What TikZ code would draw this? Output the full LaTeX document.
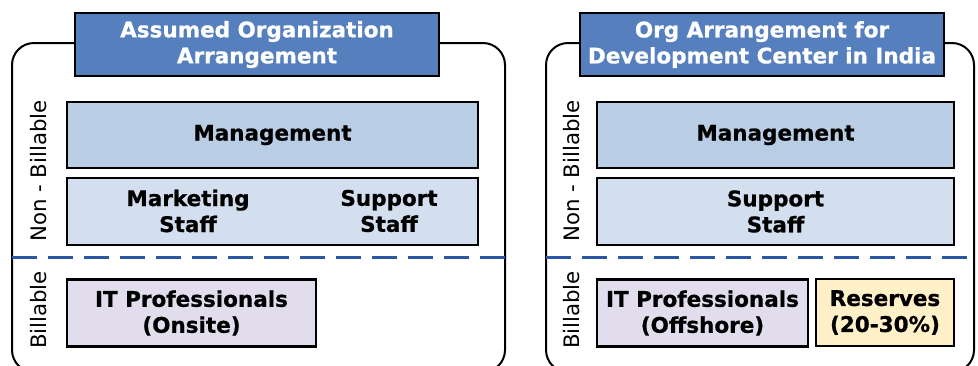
\documentclass[tikz,border=0pt]{standalone}
\usepackage{fontspec}
\setmainfont{DejaVu Sans}[BoldFeatures={FakeBold=0.8}]
\definecolor{titleblue}{HTML}{5580BD}
\definecolor{mgmtfill}{HTML}{B9CDE5}
\definecolor{stafffill}{HTML}{D3DFEE}
\definecolor{itfill}{HTML}{E2DDEC}
\definecolor{resfill}{HTML}{FFF0C8}
\definecolor{splitblue}{HTML}{2A56A5}
\tikzset{
  panel/.style={draw=black, line width=2pt, rounded corners=22pt},
  box/.style={draw=black, line width=2.8pt, inner sep=0pt, align=center,
    font=\fontsize{21.5}{26}\selectfont\bfseries},
  titlebox/.style={box, fill=titleblue, text=white, minimum width=364pt, minimum height=63pt},
  mgmtbox/.style={box, fill=mgmtfill, minimum height=66pt},
  staffbox/.style={box, fill=stafffill, minimum height=67pt},
  itbox/.style={box, fill=itfill, minimum height=67pt},
  resbox/.style={box, fill=resfill, minimum height=67pt},
  boxtext/.style={inner sep=0pt, align=center, font=\fontsize{21.5}{26}\selectfont\bfseries},
  sidelabel/.style={rotate=90, inner sep=0pt, font=\fontsize{21.3}{24}\selectfont},
  split/.style={draw=splitblue, line width=3pt, dash pattern=on 25pt off 11pt},
}
\begin{document}
\begin{tikzpicture}[x=1pt, y=-1pt]
\useasboundingbox (0,0) rectangle (978,365);
\clip (0,0) rectangle (978,365);

% ---- left panel: assumed organization ----
\draw[panel] (12,43) rectangle (505,372);
\node[titlebox] (t1) at (257,44.5) {Assumed Organization\\Arrangement};
\node[mgmtbox, minimum width=411pt] (m1) at (272.5,135) {Management};
\node[staffbox, minimum width=411pt] (s1) at (272.5,211.5) {};
\node[boxtext] (mk1) at (188,211) {Marketing\\Staff};
\node[boxtext] (sp1) at (389,211) {Support\\Staff};
\node[itbox, minimum width=249pt] (it1) at (191.5,313) {IT Professionals\\(Onsite)};
\node[sidelabel] (nb1) at (39,171) {Non - Billable};
\node[sidelabel] (b1) at (39,310) {Billable};
\coordinate (d1a) at (12,257);
\coordinate (d1b) at (505,257);
\draw[split] (d1a) -- (d1b);

% ---- right panel: development center in India ----
\draw[panel] (546,43) rectangle (974,372);
\node[titlebox] (t2) at (762,44.5) {Org Arrangement for\\Development Center in India};
\node[mgmtbox, minimum width=357pt] (m2) at (775.5,135) {Management};
\node[staffbox, minimum width=357pt] (s2) at (775.5,211.5) {Support\\Staff};
\node[itbox, minimum width=211pt] (it2) at (702.5,313) {IT Professionals\\(Offshore)};
\node[resbox, minimum width=138pt] (r2) at (885,312.5) {Reserves\\(20-30\%)};
\node[sidelabel] (nb2) at (572,171) {Non - Billable};
\node[sidelabel] (b2) at (572,310) {Billable};
\coordinate (d2a) at (546,257);
\coordinate (d2b) at (978,257);
\draw[split] (d2a) -- (d2b);
\end{tikzpicture}
\end{document}
